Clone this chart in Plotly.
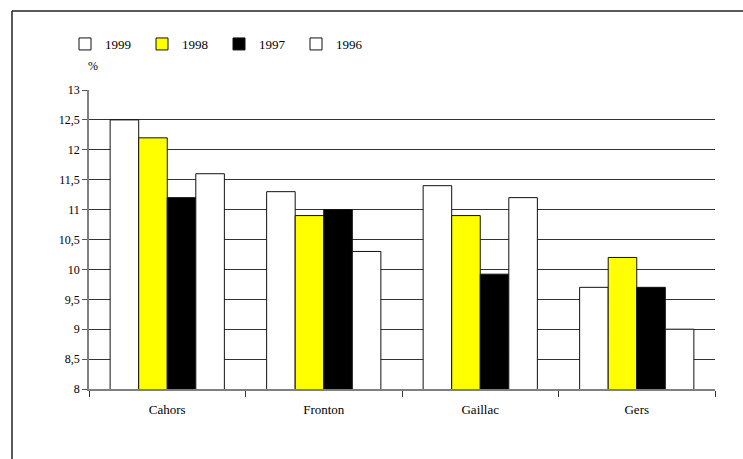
import plotly.graph_objects as go

# Regions and yearly percentages
regions = ["Cahors", "Fronton", "Gaillac", "Gers"]
years = ["1999", "1998", "1997", "1996"]
v1999 = [12.5, 11.3, 11.4, 9.7]
v1998 = [12.2, 10.9, 10.9, 10.2]
v1997 = [11.2, 11.0, 9.92, 9.7]
v1996 = [11.6, 10.3, 11.2, 9.0]

series = [v1999, v1998, v1997, v1996]
fills = ["#FFFFFF", "#FFFF00", "#000000", "#FFFFFF"]

SERIF = "Liberation Serif"

fig = go.Figure()
for name, vals, fill in zip(years, series, fills):
    fig.add_trace(go.Bar(
        x=regions, y=vals, name=name,
        marker=dict(color=fill, line=dict(color="#111111", width=1)),
    ))

# plot area in pixels (used for the outer frame placement)
W, H = 743, 459
L, R, T, B = 89, 28, 90, 70
pw, ph = W - L - R, H - T - B

def px(x):
    return (x - L) / pw

def py(y):
    return (H - B - y) / ph

fig.update_layout(
    width=W, height=H,
    margin=dict(l=L, r=R, t=T, b=B),
    paper_bgcolor="white", plot_bgcolor="white",
    barmode="group", bargap=0.27, bargroupgap=0,
    separators=", ",
    font=dict(family=SERIF, size=12, color="black"),
    showlegend=True,
    legend=dict(
        orientation="h", x=px(65), y=py(44), xanchor="left", yanchor="middle",
        font=dict(family=SERIF, size=13, color="black"),
        entrywidth=32, entrywidthmode="pixels",
        itemwidth=30, traceorder="normal", bgcolor="rgba(0,0,0,0)",
    ),
    xaxis=dict(
        showline=True, linecolor="#808080", linewidth=1.5,
        ticks="outside", tickson="boundaries", ticklen=6, tickcolor="#333333",
        showgrid=False, tickfont=dict(family=SERIF, size=13),
        ticklabelstandoff=8,
    ),
    yaxis=dict(
        range=[8, 13], dtick=0.5, tick0=8,
        showline=True, linecolor="#808080", linewidth=1.5,
        ticks="outside", ticklen=5, tickcolor="#555555",
        showgrid=True, gridcolor="#333333", gridwidth=1,
        zeroline=False, tickfont=dict(family=SERIF, size=12),
    ),
    annotations=[dict(
        text="%", xref="paper", yref="paper", x=px(86), y=py(57),
        showarrow=False, font=dict(family=SERIF, size=12),
    )],
    shapes=[
        # outer frame: top and left edges
        dict(type="line", xref="paper", yref="paper",
             x0=px(12), x1=px(745), y0=py(11), y1=py(11),
             line=dict(color="#222222", width=1.5)),
        dict(type="line", xref="paper", yref="paper",
             x0=px(12), x1=px(12), y0=py(11), y1=py(462),
             line=dict(color="#222222", width=1.5)),
    ],
)

fig.write_html("out.html")
